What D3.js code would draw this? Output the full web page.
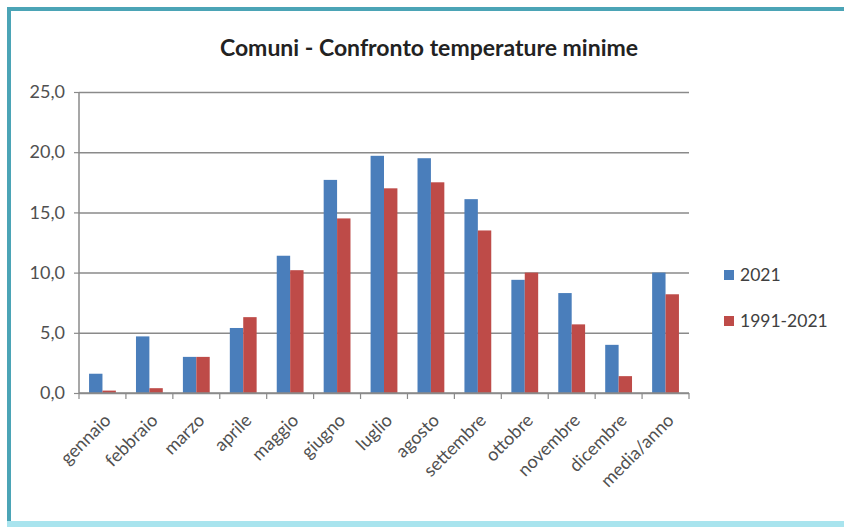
<!DOCTYPE html>
<html>
<head>
<meta charset="utf-8">
<script src="https://cdn.jsdelivr.net/npm/d3@7"></script>
<style>
  html, body { margin: 0; padding: 0; background: #fff; }
  svg { display: block; }
  text { font-family: Lato, "Open Sans", sans-serif; }
</style>
</head>
<body>
<svg id="chart" width="844" height="527"></svg>
<script>
// Monthly minimum temperatures (°C)
const months = ["gennaio", "febbraio", "marzo", "aprile", "maggio", "giugno", "luglio",
                "agosto", "settembre", "ottobre", "novembre", "dicembre", "media/anno"];
const series = ["2021", "1991-2021"];
const values2021 = [1.6, 4.7, 3.0, 5.4, 11.4, 17.7, 19.7, 19.5, 16.1, 9.4, 8.3, 4.0, 10.0];
const values1991_2021 = [0.2, 0.4, 3.0, 6.3, 10.2, 14.5, 17.0, 17.5, 13.5, 10.0, 5.7, 1.4, 8.2];
const yTicks = [0, 5, 10, 15, 20, 25];
const colors = ["#4a7ebb", "#be4b48"];
const title = "Comuni  - Confronto temperature minime";

const rows = months.map((m, i) => ({ month: m, vals: [values2021[i], values1991_2021[i]] }));

const svg = d3.select("#chart");
const W = 844, H = 527;
const plot = { left: 79, right: 689, top: 92, bottom: 393 };

// Frame
svg.append("rect").attr("x", 0).attr("y", 0).attr("width", W).attr("height", H).attr("fill", "#fff");
svg.append("rect").attr("x", 7).attr("y", 7).attr("width", W - 7).attr("height", 4).attr("fill", "#4ba4b6");
svg.append("rect").attr("x", 7).attr("y", 7).attr("width", 4).attr("height", H - 7).attr("fill", "#4ba4b6");
svg.append("rect").attr("x", 7).attr("y", 521).attr("width", W - 7).attr("height", 6).attr("fill", "#a9e4ee");

const x = d3.scaleBand().domain(months).range([plot.left, plot.right]).paddingInner(0).paddingOuter(0);
const y = d3.scaleLinear().domain([0, 25]).range([plot.bottom, plot.top]);
const barW = x.bandwidth() / 3.5;
const xs = d3.scaleBand().domain(series).range([barW * 0.75, barW * 2.75]);

const fmt = d3.formatLocale({ decimal: ",", thousands: ".", grouping: [3], currency: ["", "€"] }).format(".1f");

// Gridlines + y labels
const yAxis = d3.axisLeft(y).tickValues(yTicks).tickFormat(fmt).tickSize(-(plot.right - plot.left)).tickPadding(14);
const gy = svg.append("g").attr("transform", `translate(${plot.left},0)`).call(yAxis);
gy.select(".domain").remove();
gy.selectAll(".tick line").attr("stroke", "#8a8a8a").attr("stroke-width", 1.5);
gy.selectAll(".tick text").attr("fill", "#505050").style("font-size", "18px");
// small outer tick on the left of each gridline
gy.selectAll(".tick").append("line").attr("x1", -5).attr("x2", 0).attr("stroke", "#8a8a8a").attr("stroke-width", 1.2);

// Vertical axis line
svg.append("line").attr("x1", plot.left).attr("x2", plot.left).attr("y1", plot.top).attr("y2", plot.bottom)
  .attr("stroke", "#8a8a8a").attr("stroke-width", 1.5);

// Bars
const groups = svg.append("g").selectAll("g").data(rows).join("g")
  .attr("transform", d => `translate(${x(d.month)},0)`);
groups.selectAll("rect").data(d => d.vals.map((v, j) => ({ key: series[j], v, j }))).join("rect")
  .attr("x", d => xs(d.key))
  .attr("width", xs.bandwidth())
  .attr("y", d => y(d.v))
  .attr("height", d => y(0) - y(d.v))
  .attr("fill", d => colors[d.j]);

// X axis with ticks at category boundaries
const bounds = months.map(m => x(m)).concat([plot.right]);
svg.append("line").attr("x1", plot.left).attr("x2", plot.right).attr("y1", plot.bottom).attr("y2", plot.bottom)
  .attr("stroke", "#8a8a8a").attr("stroke-width", 1.5);
svg.append("g").selectAll("line").data(bounds).join("line")
  .attr("x1", d => d).attr("x2", d => d).attr("y1", plot.bottom).attr("y2", plot.bottom + 6)
  .attr("stroke", "#8a8a8a").attr("stroke-width", 1.2);

svg.append("g").selectAll("text").data(months).join("text")
  .attr("transform", d => `translate(${x(d) + x.bandwidth() / 2 + 5},${plot.bottom + 24}) rotate(-45)`)
  .attr("text-anchor", "end")
  .attr("dy", "0.35em")
  .attr("fill", "#505050")
  .style("font-size", "18px")
  .text(d => d);

// Title
svg.append("text").attr("x", 429).attr("y", 56).attr("text-anchor", "middle")
  .attr("fill", "#222").style("font-size", "23px").style("font-weight", "bold")
  .text(title);

// Legend
const legend = svg.append("g").selectAll("g").data(series).join("g")
  .attr("transform", (d, i) => `translate(724,${270 + i * 46})`);
legend.append("rect").attr("width", 10).attr("height", 10).attr("fill", (d, i) => colors[i]);
legend.append("text").attr("x", 16).attr("y", 5).attr("dy", "0.35em")
  .attr("fill", "#404040").style("font-size", "17.5px").text(d => d);
</script>
</body>
</html>
